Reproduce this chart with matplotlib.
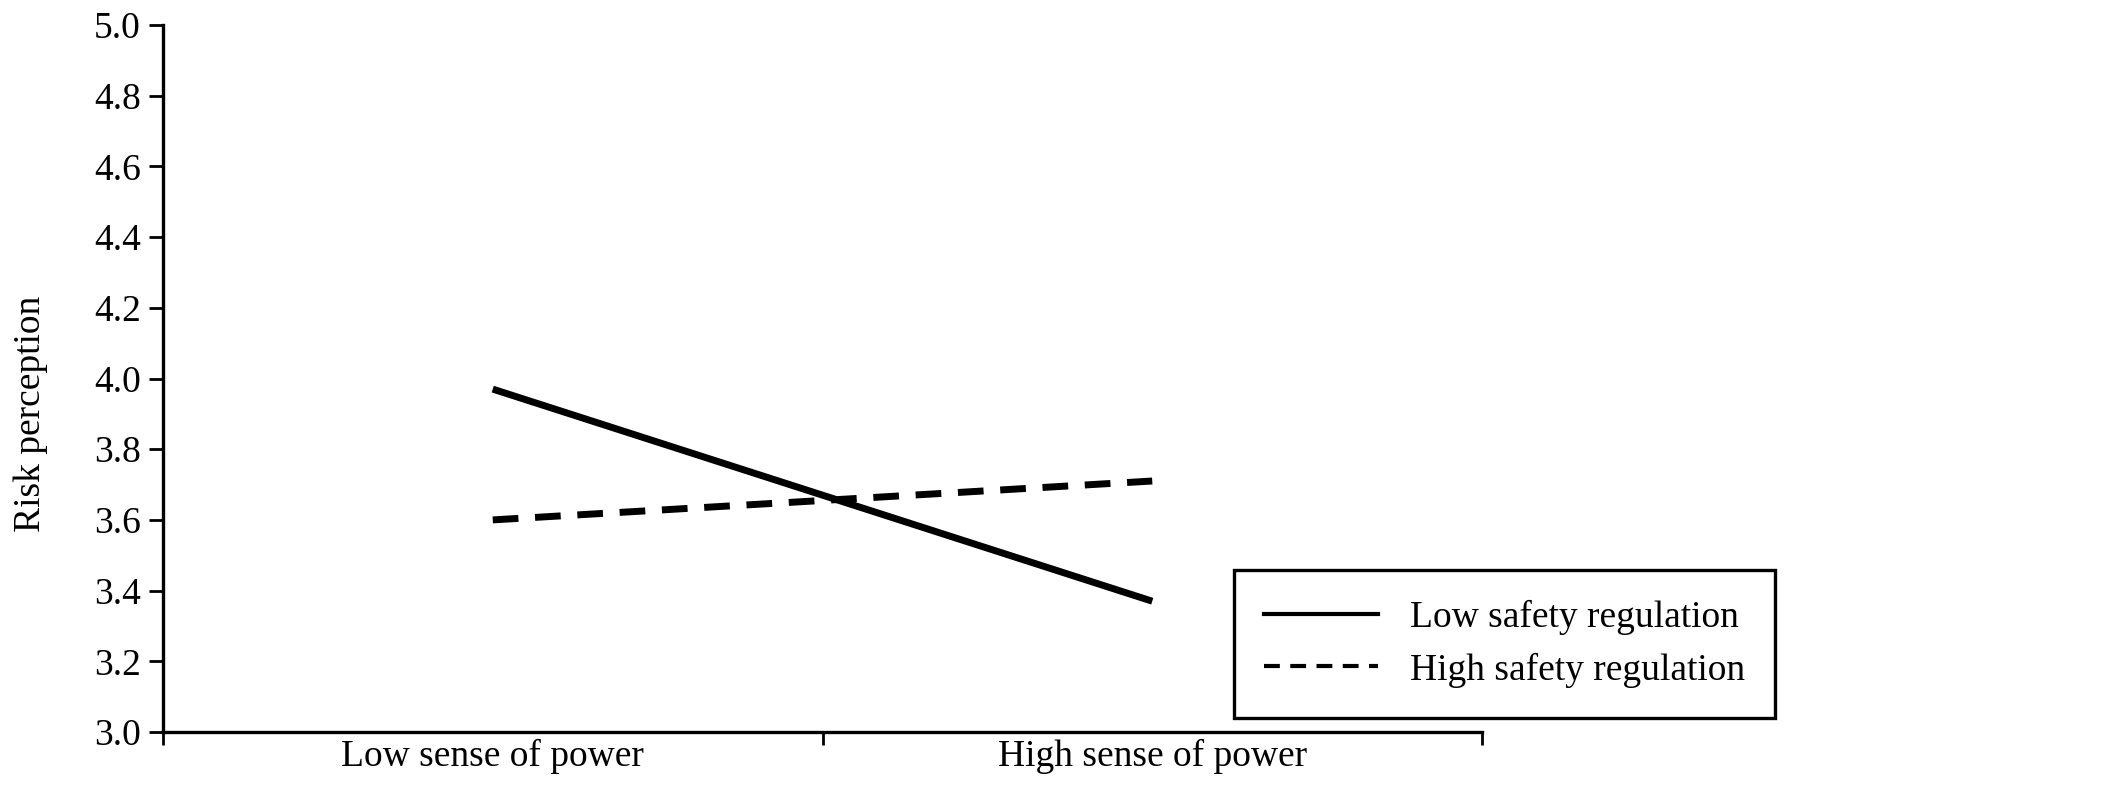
import matplotlib
matplotlib.use("Agg")
import matplotlib.pyplot as plt
from matplotlib.lines import Line2D

# data
power_levels = ["Low sense of power", "High sense of power"]
low_regulation = [3.97, 3.37]
high_regulation = [3.60, 3.71]
series_labels = ["Low safety regulation", "High safety regulation"]
y_ticks = [3.0, 3.2, 3.4, 3.6, 3.8, 4.0, 4.2, 4.4, 4.6, 4.8, 5.0]

plt.rcParams['font.family'] = ['Liberation Serif', 'DejaVu Serif']
FS = 27

fig = plt.figure(figsize=(21.26, 7.91), dpi=100)
ax = fig.add_axes([163/2126, 1 - 732/791, (1482-163)/2126, (732-25)/791])

x_pos = [0.5, 1.5]
ax.plot(x_pos, low_regulation, color='black', lw=5.0, solid_capstyle='butt')
ax.plot(x_pos, high_regulation, color='black', lw=5.0, dashes=(3.7, 2.4),
        dash_capstyle='butt')

ax.set_xlim(0, 2)
ax.set_ylim(3.0, 5.0)
ax.set_yticks(y_ticks)
ax.set_yticklabels(["%.1f" % v for v in y_ticks])

# category boundaries as major ticks, labels on minor ticks
ax.set_xticks([0, 1, 2])
ax.set_xticklabels(["", "", ""])
ax.set_xticks(x_pos, minor=True)
ax.set_xticklabels(power_levels, minor=True)
ax.tick_params(axis='x', which='minor', length=0, pad=5, labelsize=FS)
ax.tick_params(axis='x', which='major', direction='out', length=9, width=2)
ax.tick_params(axis='y', direction='out', length=10, width=2, pad=6, labelsize=FS)

for s in ['top', 'right']:
    ax.spines[s].set_visible(False)
for s in ['left', 'bottom']:
    ax.spines[s].set_linewidth(2.4)

ax.set_ylabel("Risk perception", fontsize=FS)
ax.yaxis.set_label_coords(-0.087, 0.45)

handles = [Line2D([], [], color='black', lw=3.0),
           Line2D([], [], color='black', lw=3.0, dashes=(3.8, 2.5))]
leg = fig.legend(handles, series_labels, loc='upper left',
                 bbox_to_anchor=(1234/2126, 1 - 570/791),
                 bbox_transform=fig.transFigure, fontsize=FS, frameon=True,
                 fancybox=False, edgecolor='black', framealpha=1,
                 handlelength=3.05, handletextpad=0.83, borderpad=0.8,
                 labelspacing=0.46, borderaxespad=0)
leg.get_frame().set_linewidth(2.4)

fig.savefig("out.png", dpi=100)
